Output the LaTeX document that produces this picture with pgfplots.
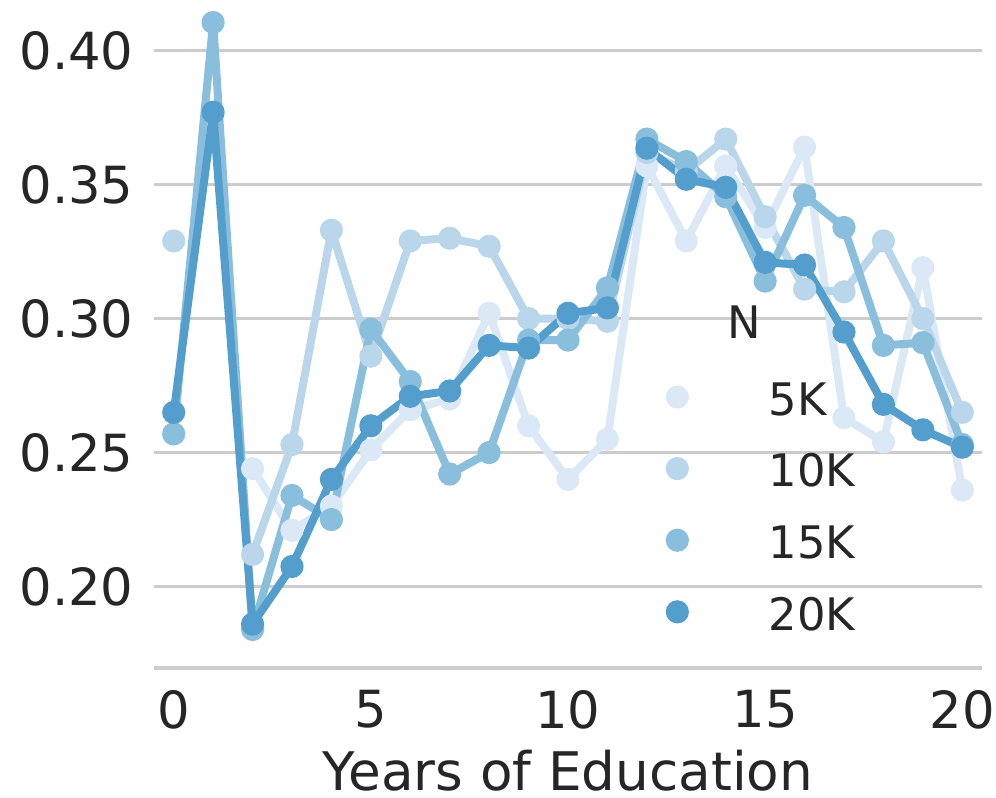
\documentclass[border=0pt]{standalone}
\usepackage{fontspec}
\setmainfont{DejaVu Sans}
\usepackage{pgfplots}
\usepackage{pgfplotstable}
\pgfplotsset{compat=1.18}
\definecolor{cA}{HTML}{DBE9F6}
\definecolor{cB}{HTML}{BAD6EB}
\definecolor{cC}{HTML}{89BEDC}
\definecolor{cD}{HTML}{539ECD}
\definecolor{gridc}{HTML}{CCCCCC}
\definecolor{txt}{HTML}{262626}

\pgfplotstableread{
x y
0 0.257
1 nan
2 0.244
3 0.221
4 0.230
5 0.251
6 0.266
7 0.270
8 0.302
9 0.260
10 0.240
11 0.255
12 0.357
13 0.329
14 0.357
15 0.334
16 0.364
17 0.263
18 0.254
19 0.319
20 0.236
}\dataA
\pgfplotstableread{
x y
0 0.329
1 nan
2 0.212
3 0.253
4 0.333
5 0.286
6 0.329
7 0.330
8 0.327
9 0.300
10 0.300
11 0.299
12 0.362
13 0.355
14 0.367
15 0.338
16 0.311
17 0.310
18 0.329
19 0.300
20 0.265
}\dataB
\pgfplotstableread{
x y
0 0.257
1 0.4105
2 0.184
3 0.234
4 0.225
5 0.296
6 0.2765
7 0.242
8 0.250
9 0.292
10 0.292
11 0.3115
12 0.367
13 0.3586
14 0.3455
15 0.314
16 0.346
17 0.334
18 0.290
19 0.291
20 0.253
}\dataC
\pgfplotstableread{
x y
0 0.265
1 0.377
2 0.186
3 0.2075
4 0.240
5 0.260
6 0.271
7 0.273
8 0.290
9 0.289
10 0.302
11 0.304
12 0.3636
13 0.352
14 0.349
15 0.321
16 0.320
17 0.295
18 0.268
19 0.2585
20 0.252
}\dataD

\begin{document}
\begin{tikzpicture}
\useasboundingbox (-38.5pt,-32.25pt) rectangle (210.5pt,167pt);
\begin{axis}[
  scale only axis,
  width=207pt, height=167pt,
  xmin=-0.5, xmax=20.5,
  ymin=0.1696, ymax=0.4189,
  clip=false,
  separate axis lines,
  axis x line*=bottom,
  axis y line*=left,
  x axis line style={draw=gridc, line width=0.8pt, -},
  y axis line style={draw=none},
  major tick length=0pt,
  tick style={draw=none},
  ymajorgrids,
  grid style={draw=gridc, line width=0.8pt},
  xtick={0,5,10,15,20},
  ytick={0.20,0.25,0.30,0.35,0.40},
  /pgf/number format/assume math mode=true,
  yticklabel style={/pgf/number format/fixed, /pgf/number format/fixed zerofill, /pgf/number format/precision=2, xshift=-1.6pt},
  xticklabel style={yshift=-2pt},
  tick label style={font=\fontsize{12.8}{15}\selectfont, text=txt},
  xlabel={Years of Education},
  xlabel style={font=\fontsize{13.3}{15}\selectfont, text=txt, at={(axis description cs:0.5,0)}, anchor=base, yshift=-30.6pt},
  unbounded coords=jump,
  legend cell align=left,
  legend image code/.code={\draw[#1] plot coordinates {(0cm,0cm)};},
  legend style={draw=none, fill=none, inner sep=0pt, outer sep=0pt,
    row sep=8.8pt, column sep=20.2pt,
    font=\fontsize{11.2}{12}\selectfont, text=txt,
    at={(axis description cs:0.6190,0.4329)}, anchor=north west,
    nodes={inner sep=0pt, text height=9.1pt, text depth=0pt}},
  every axis plot/.append style={line width=2pt, line join=round, mark=*, mark size=2.7pt},
]
\addplot[cA, mark options={fill=cA, draw=cA, line width=0.4pt}] table[x=x,y=y] {\dataA};
\addlegendentry{5K}
\addplot[cB, mark options={fill=cB, draw=cB, line width=0.4pt}] table[x=x,y=y] {\dataB};
\addlegendentry{10K}
\addplot[cC, mark options={fill=cC, draw=cC, line width=0.4pt}] table[x=x,y=y] {\dataC};
\addlegendentry{15K}
\addplot[cD, mark options={fill=cD, draw=cD, line width=0.4pt}] table[x=x,y=y] {\dataD};
\addlegendentry{20K}
\node[font=\fontsize{11.2}{12}\selectfont, text=txt] at (axis description cs:0.7126,0.518) {N};
\end{axis}
\end{tikzpicture}
\end{document}
